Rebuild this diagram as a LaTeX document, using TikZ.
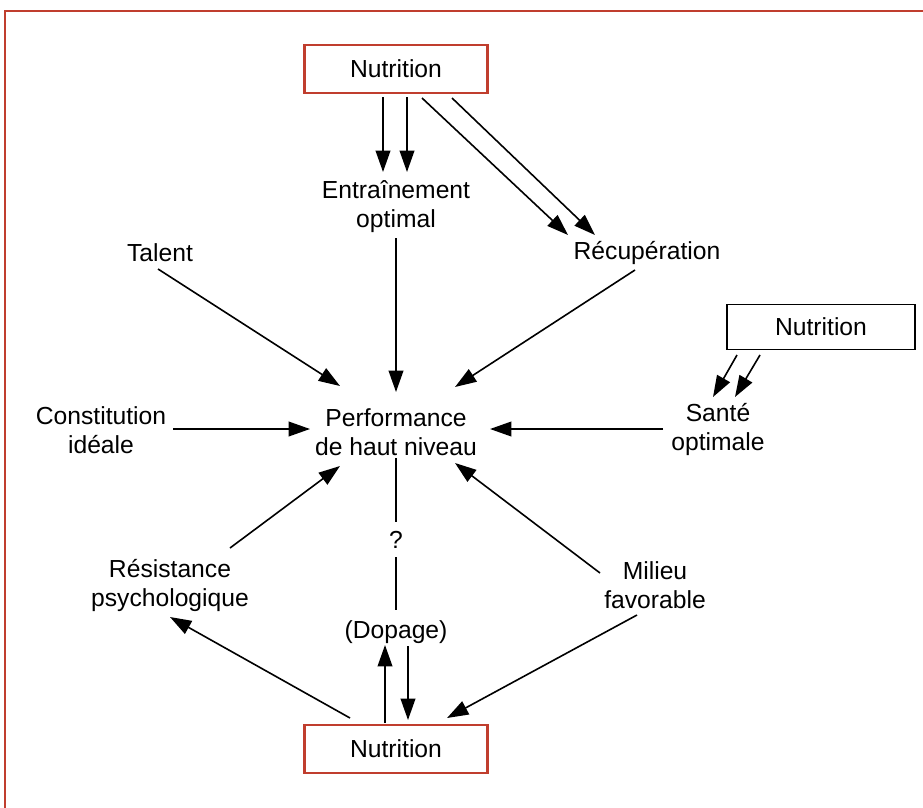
\documentclass[tikz,border=0pt]{standalone}
\usepackage{fontspec}
\setmainfont{Liberation Sans}
\usetikzlibrary{calc,arrows.meta}

\definecolor{frameRed}{RGB}{192,62,46}

\tikzset{
  Label/.style={align=center,inner sep=0pt,font=\fontsize{18.5}{21.75}\selectfont},
  NutBox/.style={Label,draw=frameRed,line width=1.9pt,minimum width=137pt,minimum height=36pt},
  NutPlain/.style={Label,draw=black,line width=1.1pt,minimum width=141pt,minimum height=34pt},
  EdgeArrow/.style={line width=1.2pt,-{Triangle[length=16pt,width=11pt]}},
  EdgePlain/.style={line width=1.2pt}
}

\begin{document}
\begin{tikzpicture}[x=0.75pt,y=-0.75pt]
  \useasboundingbox (0,0) rectangle (923,807);
  \draw[frameRed,line width=2pt] (5,830) -- (5,11) -- (940,11);

  \node[NutBox]   (nutTop)    at (396,69)  {Nutrition};
  \node[Label]    (entr)      at (396,207) {Entraînement\\optimal};
  \node[Label]    (recup)     at (647,253) {Récupération};
  \node[Label]    (talent)    at (160,253) {Talent};
  \node[Label]    (perf)      at (396,432) {Performance\\de haut niveau};
  \node[NutPlain] (nutRight)  at (821,327) {Nutrition};
  \node[Label]    (sante)     at (718,429) {Santé\\optimale};
  \node[Label]    (constit)   at (101,430) {Constitution\\idéale};
  \node[Label]    (quest)     at (396,540) {?};
  \node[Label]    (resist)    at (170,585) {Résistance\\psychologique};
  \node[Label]    (milieu)    at (655,585) {Milieu\\favorable};
  \node[Label]    (dopage)    at (396,632) {(Dopage)};
  \node[NutBox]   (nutBottom) at (396,749) {Nutrition};

  \draw[EdgeArrow] ($(nutTop)+(-13,28)$) -- ($(entr)+(-13,-35)$);
  \draw[EdgeArrow] ($(nutTop)+(11,28)$)  -- ($(entr)+(11,-35)$);
  \draw[EdgeArrow] ($(nutTop)+(26,29)$)  -- ($(recup)+(-79,-18)$);
  \draw[EdgeArrow] ($(nutTop)+(56,29)$)  -- ($(recup)+(-52,-18)$);

  \draw[EdgeArrow] ($(entr)+(0,31)$)     -- ($(perf)+(0,-40)$);
  \draw[EdgeArrow] ($(talent)+(-2,16)$)  -- ($(perf)+(-56,-46)$);
  \draw[EdgeArrow] ($(recup)+(-12,17)$)  -- ($(perf)+(59,-45)$);

  \draw[EdgeArrow] ($(nutRight)+(-84,28)$) -- ($(sante)+(-5,-32)$);
  \draw[EdgeArrow] ($(nutRight)+(-61,28)$) -- ($(sante)+(17,-32)$);
  \draw[EdgeArrow] ($(sante)+(-55,0)$)     -- ($(perf)+(94,-3)$);
  \draw[EdgeArrow] ($(constit)+(72,-1)$)   -- ($(perf)+(-86,-3)$);

  \draw[EdgePlain] ($(perf)+(0,26)$)   -- ($(quest)+(0,-18)$);
  \draw[EdgePlain] ($(quest)+(0,17)$)  -- ($(dopage)+(0,-22)$);

  \draw[EdgeArrow] ($(resist)+(60,-37)$)  -- ($(perf)+(-56,34)$);
  \draw[EdgeArrow] ($(milieu)+(-55,-12)$) -- ($(perf)+(59,31)$);

  \draw[EdgeArrow] ($(nutBottom)+(-11,-26)$) -- ($(dopage)+(-11,13)$);
  \draw[EdgeArrow] ($(dopage)+(12,14)$)      -- ($(nutBottom)+(12,-29)$);
  \draw[EdgeArrow] ($(nutBottom)+(-46,-31)$) -- ($(resist)+(0,32)$);
  \draw[EdgeArrow] ($(milieu)+(-18,30)$)     -- ($(nutBottom)+(51,-31)$);
\end{tikzpicture}
\end{document}
